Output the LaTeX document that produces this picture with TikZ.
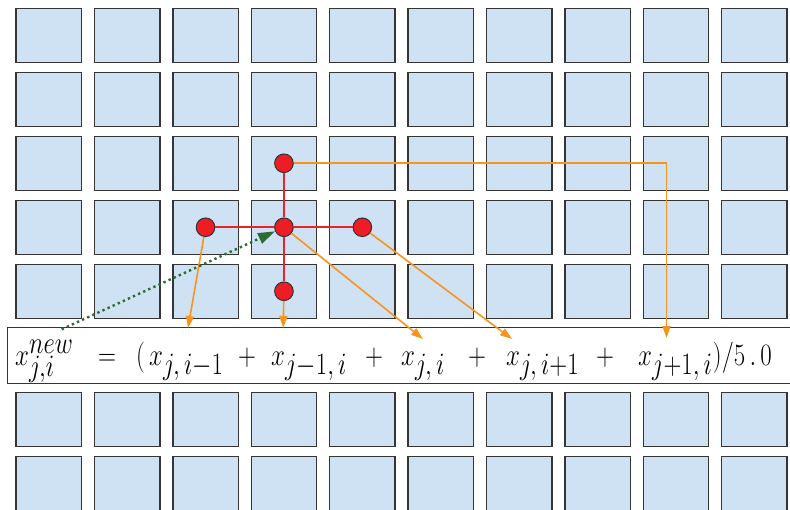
\documentclass[tikz,border=0pt]{standalone}
\usepackage{graphicx}
\usetikzlibrary{arrows.meta}
\definecolor{cellblue}{HTML}{CFE2F3}
\definecolor{celledge}{HTML}{353535}
\definecolor{dotred}{HTML}{EE1D25}
\definecolor{linkred}{HTML}{E8232B}
\definecolor{arrorange}{HTML}{F7941D}
\definecolor{arrgreen}{HTML}{2E6B34}
\newcommand\frmla[1]{\scalebox{1}[1.25]{$#1$}}
\begin{document}
\begin{tikzpicture}[x=1pt,y=-1pt,
  cell/.style={draw=celledge,fill=cellblue,line width=1.5pt,minimum width=65.4pt,minimum height=54pt,inner sep=0pt,anchor=north west},
  dot/.style={circle,draw=black!80,fill=dotred,line width=1pt,minimum size=18.6pt,inner sep=0pt},
  link/.style={draw=linkred,line width=2.1pt},
  feed/.style={draw=arrorange,line width=1.6pt,-{Triangle[length=12pt,width=8pt]}},
  upd/.style={draw=arrgreen,line width=2.4pt,dash pattern=on 2.4pt off 3.2pt,-{Triangle[length=17pt,width=11pt]}},
  term/.style={anchor=base west,inner sep=0pt,font=\fontsize{33}{40}\selectfont},
  fbox/.style={draw=celledge,fill=white,line width=1.4pt,inner sep=0pt,anchor=north west}]
\clip (0,0) rectangle (790,509);
\useasboundingbox (0,0) rectangle (790,509);
\foreach \c in {0,...,9}{
  \foreach \r in {0,1,2,3,4,6,7}{
    \node[cell] (s-\c-\r) at ({15.3+78.4*\c},{7.5+64*\r}) {};
  }
}
\node[fbox,minimum width=795pt,minimum height=56.2pt] (fb) at (6.7,326.5) {};
\node[term] (xn) at (15,365) {\frmla{x_{j,i}^{new}}};
\node[term] (eq) at (98,365) {\frmla{=}};
\node[term] (op) at (136,365) {\frmla{(}};
\node[term] (t1) at (149,365) {\frmla{x_{j,\,i-1}}};
\node[term] (p1) at (238,365) {\frmla{+}};
\node[term] (t2) at (271,365) {\frmla{x_{j-1,\,i}}};
\node[term] (p2) at (365,365) {\frmla{+}};
\node[term] (t3) at (401,365) {\frmla{x_{j,\,i}}};
\node[term] (p3) at (468,365) {\frmla{+}};
\node[term] (t4) at (506,365) {\frmla{x_{j,\,i+1}}};
\node[term] (p4) at (596,365) {\frmla{+}};
\node[term] (t5) at (638,365) {\frmla{x_{j+1,\,i}}};
\node[term] (cl) at (t5.base east) {\frmla{)/5\,.\,0}};
\node[dot] (T) at (s-3-2.center) {};
\node[dot] (C) at (s-3-3.center) {};
\node[dot] (B) at (s-3-4.center) {};
\node[dot] (L) at (s-2-3.center) {};
\node[dot] (R) at (s-4-3.center) {};
\coordinate (e1) at (188,328);
\coordinate (e2) at (283.2,328);
\coordinate (e3) at (423,339);
\coordinate (e4) at (512,339);
\coordinate (e5) at (666.5,338);
\coordinate (g0) at (61.7,329.3);
\draw[link] (T) -- (C);
\draw[link] (C) -- (B);
\draw[link] (L) -- (C);
\draw[link] (C) -- (R);
\draw[feed] (T) -- (e5 |- T) -- (e5);
\draw[feed] (L) -- (e1);
\draw[feed] (B) -- (e2);
\draw[feed] (C) -- (e3);
\draw[feed] (R) -- (e4);
\draw[upd] (g0) -- (C);
\end{tikzpicture}
\end{document}
